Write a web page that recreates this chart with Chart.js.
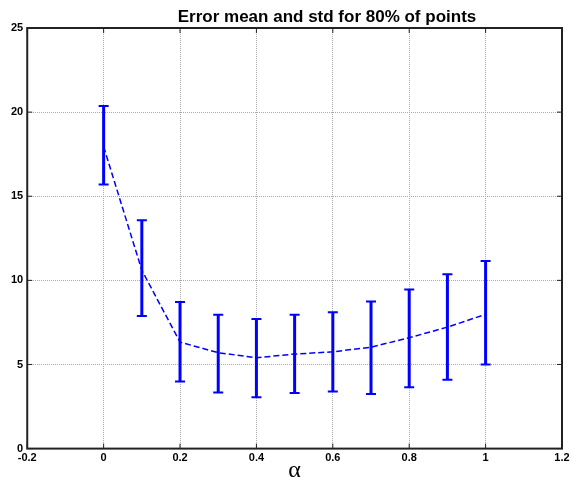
<!DOCTYPE html>
<html>
<head>
<meta charset="utf-8">
<script src="https://cdn.jsdelivr.net/npm/chart.js@4.4.0/dist/chart.umd.min.js"></script>
<style>
  body { margin: 0; background: #fff; }
  #wrap { width: 573px; height: 482px; }
</style>
</head>
<body>
<div id="wrap"><canvas id="myChart"></canvas></div>
<script>
// valores
const alphas = [0, 0.1, 0.2, 0.3, 0.4, 0.5, 0.6, 0.7, 0.8, 0.9, 1.0];
const means  = [17.95, 10.6, 6.33, 5.7, 5.4, 5.62, 5.75, 6.03, 6.59, 7.22, 7.98];
const errLow = [15.7, 7.88, 3.99, 3.33, 3.05, 3.3, 3.4, 3.25, 3.65, 4.09, 5.0];
const errHigh = [20.36, 13.57, 8.71, 7.96, 7.7, 7.95, 8.1, 8.75, 9.45, 10.36, 11.15];
const xTicks = [-0.2, 0, 0.2, 0.4, 0.6, 0.8, 1, 1.2];
const yTicks = [0, 5, 10, 15, 20, 25];
const titulo = 'Error mean and std for 80% of points';

// barras de erro + moldura + titulo
const errorBars = {
    id: 'errorBars',
    afterDatasetsDraw(chart) {
        const ctx = chart.ctx;
        const xs = chart.scales.x, ys = chart.scales.y;
        ctx.save();
        ctx.strokeStyle = '#0000ff';
        for (let i = 0; i < alphas.length; i++) {
            const px = xs.getPixelForValue(alphas[i]);
            const p1 = ys.getPixelForValue(errLow[i]);
            const p2 = ys.getPixelForValue(errHigh[i]);
            ctx.lineWidth = 3;
            ctx.beginPath();
            ctx.moveTo(px, p1);
            ctx.lineTo(px, p2);
            ctx.stroke();
            ctx.lineWidth = 2;
            ctx.beginPath();
            ctx.moveTo(px - 5, p1); ctx.lineTo(px + 5, p1);
            ctx.moveTo(px - 5, p2); ctx.lineTo(px + 5, p2);
            ctx.stroke();
        }
        const a = chart.chartArea;
        ctx.strokeStyle = '#222';
        ctx.lineWidth = 2;
        ctx.strokeRect(a.left, a.top, a.right - a.left, a.bottom - a.top);
        // pequenos ticks internos
        ctx.lineWidth = 1;
        ctx.beginPath();
        xTicks.forEach(v => {
            const px = xs.getPixelForValue(v);
            ctx.moveTo(px, a.bottom); ctx.lineTo(px, a.bottom - 5);
            ctx.moveTo(px, a.top); ctx.lineTo(px, a.top + 5);
        });
        yTicks.forEach(v => {
            const py = ys.getPixelForValue(v);
            ctx.moveTo(a.left, py); ctx.lineTo(a.left + 5, py);
            ctx.moveTo(a.right, py); ctx.lineTo(a.right - 5, py);
        });
        ctx.stroke();
        ctx.fillStyle = '#000';
        ctx.font = 'bold 17px "Liberation Sans", Arial, sans-serif';
        ctx.textAlign = 'center';
        ctx.textBaseline = 'alphabetic';
        ctx.fillText(titulo, 327, 22);
        ctx.restore();
    }
};

const ctx = document.getElementById('myChart');
const myChart = new Chart(ctx, {
    type: 'line',
    data: {
        datasets: [{
            label: 'mean',
            data: alphas.map((a, i) => ({ x: a, y: means[i] })),
            borderColor: '#0000ff',
            borderWidth: 1.5,
            borderDash: [6, 3],
            pointRadius: 0,
            fill: false,
            tension: 0
        }]
    },
    options: {
        responsive: true,
        maintainAspectRatio: false,
        animation: false,
        layout: { padding: { left: 7, right: 11, top: 28, bottom: 0 } },
        plugins: {
            legend: { display: false },
            tooltip: { enabled: false }
        },
        scales: {
            x: {
                type: 'linear',
                min: -0.2,
                max: 1.2,
                afterBuildTicks: axis => { axis.ticks = xTicks.map(v => ({ value: v })); },
                ticks: {
                    color: '#000',
                    font: { family: 'Liberation Sans', size: 11, weight: 'bold' },
                    padding: 3,
                    maxRotation: 0,
                    callback: v => String(Math.round(v * 10) / 10)
                },
                grid: { color: '#aaa', drawTicks: false },
                border: { display: false, dash: [1, 1] },
                title: {
                    display: true,
                    text: 'α',
                    color: '#000',
                    font: { family: 'Liberation Serif', size: 24, lineHeight: 0.55 },
                    padding: { top: -4, bottom: 5 }
                }
            },
            y: {
                min: 0,
                max: 25,
                afterBuildTicks: axis => { axis.ticks = yTicks.map(v => ({ value: v })); },
                ticks: {
                    color: '#000',
                    font: { family: 'Liberation Sans', size: 11, weight: 'bold' },
                    padding: 4
                },
                grid: { color: '#aaa', drawTicks: false },
                border: { display: false, dash: [1, 1] }
            }
        }
    },
    plugins: [errorBars]
});
</script>
</body>
</html>
